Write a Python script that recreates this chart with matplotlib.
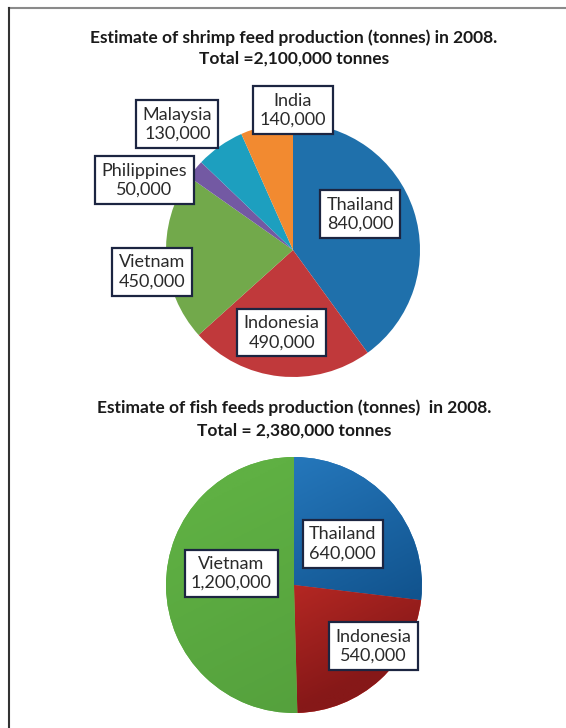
import numpy as np
import matplotlib
matplotlib.use("Agg")
import matplotlib.pyplot as plt
from matplotlib.lines import Line2D
from matplotlib.colors import LinearSegmentedColormap

plt.rcParams['font.family'] = ['Lato', 'DejaVu Sans']

# shrimp feed, 2008 (tonnes)
shrimp_countries = ["Thailand", "Indonesia", "Vietnam", "Philippines", "Malaysia", "India"]
shrimp_values = [840000, 490000, 450000, 50000, 130000, 140000]
shrimp_colors = ["#1f70ab", "#c0393b", "#72a94b", "#7359a3", "#1d9fbf", "#f28a30"]

# fish feeds, 2008 (tonnes)
fish_countries = ["Thailand", "Indonesia", "Vietnam"]
fish_values = [640000, 540000, 1200000]
fish_light = ["#2577bb", "#e2372e", "#5fb043"]
fish_dark = ["#0c4a82", "#861818", "#55a13d"]

# label box positions, in pie radii from the centre
shrimp_label_pos = [(0.53, 0.28), (-0.09, -0.65), (-1.11, -0.17),
                    (-1.17, 0.55), (-0.91, 0.99), (0.0, 1.10)]
fish_label_pos = [(0.38, 0.32), (0.62, -0.48), (-0.49, 0.09)]

W, H = 566, 728
fig = plt.figure(figsize=(W / 100, H / 100), dpi=100)


def pie_axes(cx, cy, r):
    # cx, cy in pixels from top-left
    return fig.add_axes([(cx - r) / W, (H - cy - r) / H, 2 * r / W, 2 * r / H])


box = dict(boxstyle="square,pad=0.35", fc="white", ec="#1c2541", lw=1.6)


def add_labels(ax, names, values, pos):
    for name, v, (x, y) in zip(names, values, pos):
        ax.text(x, y, f"{name}\n{v:,}", ha="center", va="center",
                fontsize=13, color="#2a2a2a", linespacing=1.25, bbox=box,
                zorder=5)


# top pie
ax1 = pie_axes(293, 250, 127)
ax1.pie(shrimp_values, colors=shrimp_colors, startangle=90, counterclock=False,
        radius=1, wedgeprops=dict(linewidth=0))
ax1.set_xlim(-1, 1)
ax1.set_ylim(-1, 1)
ax1.set_aspect("equal")
ax1.axis("off")
add_labels(ax1, shrimp_countries, shrimp_values, shrimp_label_pos)

# bottom pie, with a shaded fill
ax2 = pie_axes(294, 585, 128)
wedges, _ = ax2.pie(fish_values, colors=fish_light, startangle=90,
                    counterclock=False, radius=1, wedgeprops=dict(linewidth=0))
yy, xx = np.mgrid[1:-1:200j, -1:1:200j]
grad = np.clip((xx * 0.5 - yy) * 0.5 + 0.5, 0, 1)
for w, c0, c1 in zip(wedges, fish_light, fish_dark):
    cmap = LinearSegmentedColormap.from_list("g", [c0, c1])
    im = ax2.imshow(grad, cmap=cmap, extent=(-1, 1, -1, 1), vmin=0, vmax=1,
                    zorder=2)
    im.set_clip_path(w)
ax2.set_xlim(-1, 1)
ax2.set_ylim(-1, 1)
ax2.set_aspect("equal")
ax2.axis("off")
add_labels(ax2, fish_countries, fish_values, fish_label_pos)

# titles
title_kw = dict(ha="center", va="center", fontsize=12.5, fontweight="bold",
                color="#1a1a1a")
fig.text(294 / W, 1 - 38 / H, "Estimate of shrimp feed production (tonnes) in 2008.", **title_kw)
fig.text(294 / W, 1 - 59 / H, "Total =2,100,000 tonnes", **title_kw)
fig.text(294 / W, 1 - 408 / H, "Estimate of fish feeds production (tonnes)  in 2008.", **title_kw)
fig.text(294 / W, 1 - 431 / H, "Total = 2,380,000 tonnes", **title_kw)

# frame lines
fig.add_artist(Line2D([9 / W, 1], [1 - 8 / H, 1 - 8 / H], color="#8a8a8a", lw=1.5))
fig.add_artist(Line2D([9 / W, 9 / W], [0, 1 - 8 / H], color="#333333", lw=1.5))

fig.savefig("out.png", dpi=100)
